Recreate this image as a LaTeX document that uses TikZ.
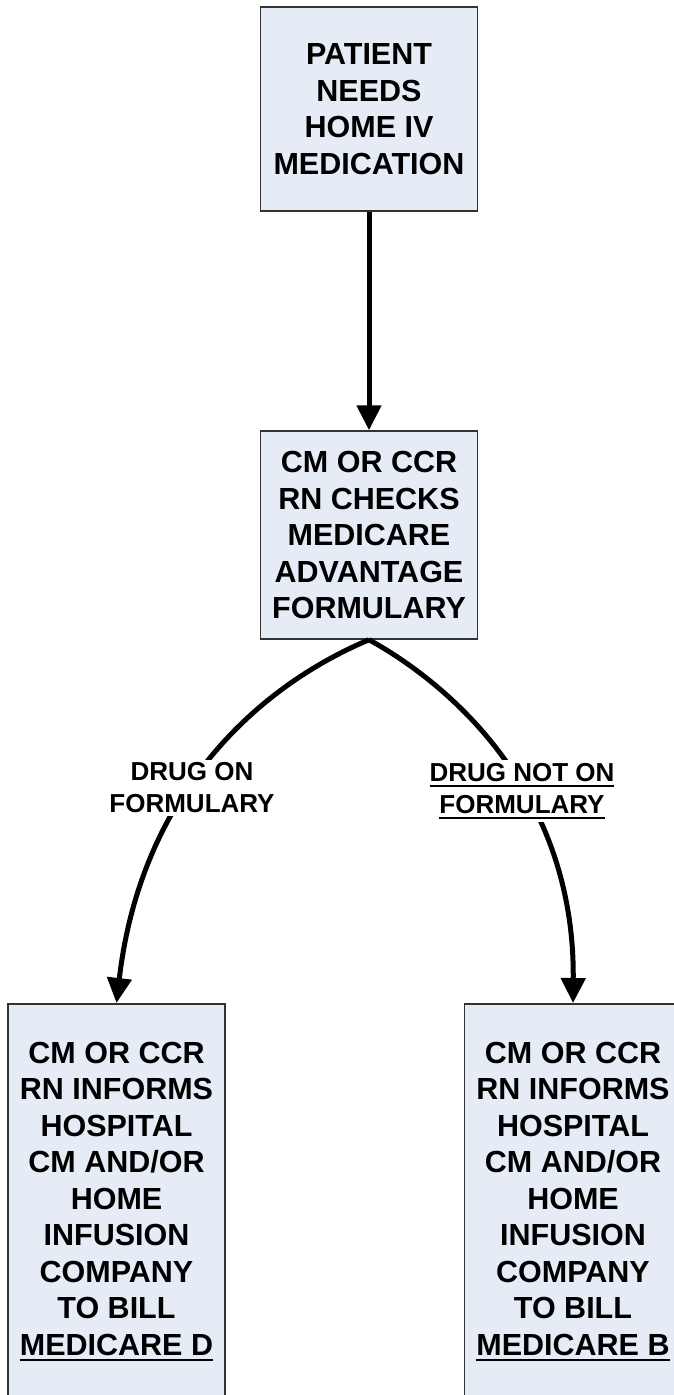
\documentclass[tikz,border=0pt]{standalone}
\usepackage{fontspec}
\setmainfont{Liberation Sans}
\usetikzlibrary{arrows.meta, positioning}
\definecolor{boxfill}{RGB}{230,236,246}
\definecolor{boxline}{RGB}{50,50,50}
\newcommand{\undl}[1]{\setbox0\hbox{#1}\rlap{\rule[-6pt]{\wd0}{2.4pt}}\box0}

\begin{document}
\begin{tikzpicture}[x=1pt, y=-1pt,
    stepbox/.style={draw=boxline, line width=1.5pt, fill=boxfill, align=center,
        font=\fontsize{30.5}{36.5}\selectfont\bfseries, minimum width=217pt, inner sep=0pt},
    flow/.style={line width=5pt, -{Triangle[length=25pt, width=24pt]}},
    branch/.style={fill=white, align=center, font=\fontsize{26}{32}\selectfont\bfseries, inner sep=3pt}]
    % Frame
    \useasboundingbox (0,0) rectangle (673,1395);

    % Boxes
    \node[stepbox, minimum height=204pt] (patient) at (369,109) {PATIENT\\NEEDS\\HOME IV\\MEDICATION};
    \node[stepbox, minimum height=208pt] (checks) at (369,535) {CM OR CCR\\RN CHECKS\\MEDICARE\\ADVANTAGE\\FORMULARY};
    \node[stepbox, minimum height=396pt, anchor=north] (billd) at (116.5,1003)
        {CM OR CCR\\RN INFORMS\\HOSPITAL\\CM AND/OR\\HOME\\INFUSION\\COMPANY\\TO BILL\\\undl{MEDICARE D}};
    \node[stepbox, minimum height=396pt, anchor=north] (billb) at (573,1003)
        {CM OR CCR\\RN INFORMS\\HOSPITAL\\CM AND/OR\\HOME\\INFUSION\\COMPANY\\TO BILL\\\undl{MEDICARE B}};

    % Connectors
    \draw[flow] (patient) -- (checks);
    \draw[flow] (checks.south) .. controls (250,690) and (140,800) .. (billd.north);
    \draw[flow] (checks.south) .. controls (460,690) and (575,800) .. (billb.north);

    % Branch labels
    \node[branch] (onlist) at (192,788) {DRUG ON\\FORMULARY};
    \node[branch] (offlist) at (522,791) {\undl{DRUG NOT ON}\\\undl{FORMULARY}};
\end{tikzpicture}
\end{document}
